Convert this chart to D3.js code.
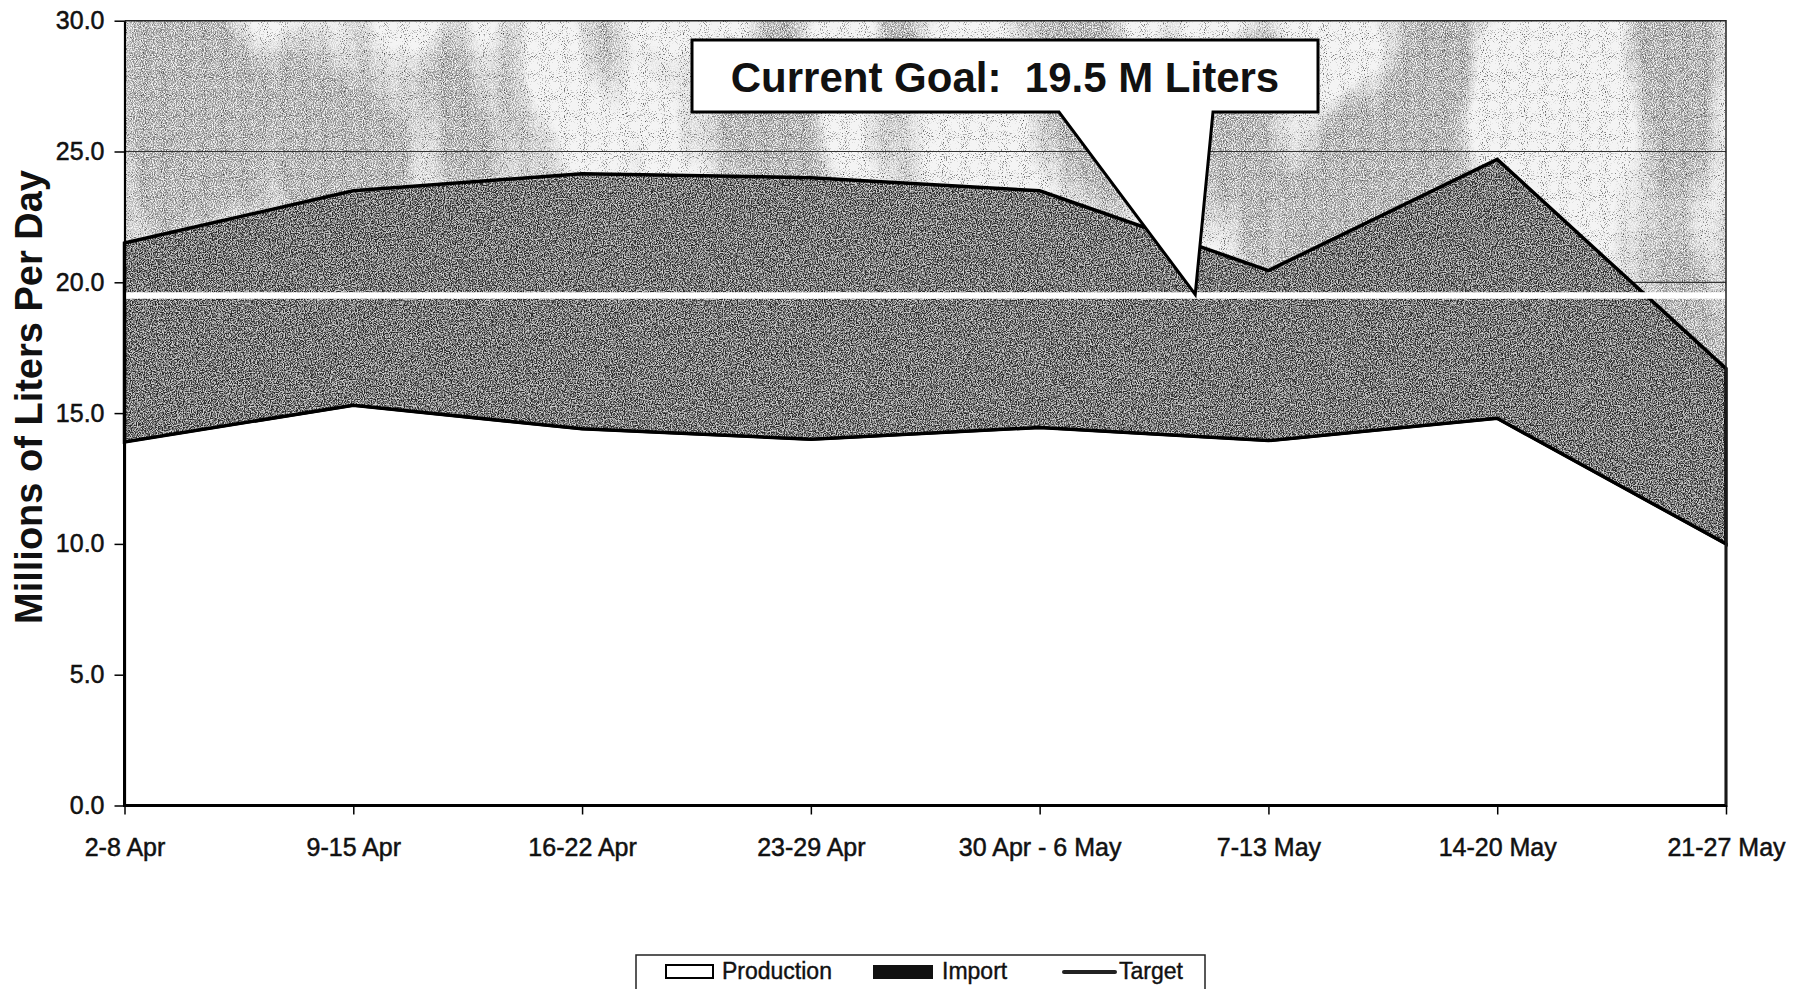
<!DOCTYPE html>
<html lang="en">

<head>
    <meta charset="UTF-8">
    <title>Millions of Liters Per Day</title>
    <script src="https://d3js.org/d3.v7.min.js"></script>
    <style>
        body,
        html {
            margin: 0px;
            background: #fff;
            font-family: 'Liberation Sans', Arial, sans-serif;
        }

        .tick text {
            font-family: 'Liberation Sans', Arial, sans-serif;
            font-size: 25px;
            fill: #111;
            stroke: #111;
            stroke-width: 0.5px;
        }

        .callout-text {
            white-space: pre;
        }
    </style>
</head>

<body>
    <div id="chart"></div>

    <script>
        // weekly values, millions of liters per day
        const weeks = ["2-8 Apr", "9-15 Apr", "16-22 Apr", "23-29 Apr", "30 Apr - 6 May", "7-13 May", "14-20 May", "21-27 May"]
        const production = [13.9, 15.3, 14.4, 14.0, 14.45, 13.95, 14.8, 10.0]
        const imports = [7.6, 8.2, 9.75, 10.0, 9.05, 6.5, 9.9, 6.7]
        const target = 19.5
        const yTicks = [0, 5, 10, 15, 20, 25, 30]
        const legendItems = ["Production", "Import", "Target"]
        const goalText = "Current Goal:  19.5 M Liters"

        const W = 1807, H = 989
        const margin = { top: 20.7, right: 81, bottom: 183.5, left: 124.5 }
        const width = W - margin.left - margin.right
        const height = H - margin.top - margin.bottom

        const svg = d3.select("#chart").append("svg")
            .attr("width", W)
            .attr("height", H)
            .style("display", "block")

        const defs = svg.append("defs")

        // light scanned background with grainy gray blotches
        const paper = defs.append("filter").attr("id", "paper")
            .attr("x", 0).attr("y", 0).attr("width", 1).attr("height", 1)
            .attr("color-interpolation-filters", "sRGB")
        paper.append("feTurbulence").attr("type", "fractalNoise")
            .attr("baseFrequency", "0.008 0.0035").attr("numOctaves", 3).attr("seed", 5).attr("result", "low")
        paper.append("feColorMatrix").attr("in", "low").attr("type", "matrix")
            .attr("values", "0 0 0 0 0.55  0 0 0 0 0.55  0 0 0 0 0.55  6 0 0 0 -2.9").attr("result", "blobs")
        paper.append("feTurbulence").attr("type", "fractalNoise")
            .attr("baseFrequency", "0.9").attr("numOctaves", 1).attr("seed", 13).attr("result", "mask0")
        paper.append("feColorMatrix").attr("in", "mask0").attr("type", "matrix")
            .attr("values", "0 0 0 0 0  0 0 0 0 0  0 0 0 0 0  4 0 0 0 -1.5").attr("result", "mask")
        paper.append("feComposite").attr("in", "blobs").attr("in2", "mask").attr("operator", "in").attr("result", "grainyBlobs")
        paper.append("feTurbulence").attr("type", "fractalNoise")
            .attr("baseFrequency", "0.95").attr("numOctaves", 1).attr("seed", 9).attr("result", "fine")
        paper.append("feColorMatrix").attr("in", "fine").attr("type", "matrix")
            .attr("values", "0 0 0 0 0.2  0 0 0 0 0.2  0 0 0 0 0.2  4 0 0 0 -2.3").attr("result", "specks")
        const pm = paper.append("feMerge")
        pm.append("feMergeNode").attr("in", "SourceGraphic")
        pm.append("feMergeNode").attr("in", "grainyBlobs")
        pm.append("feMergeNode").attr("in", "specks")

        // dark grainy fill for the import band
        const grain = defs.append("filter").attr("id", "grain")
            .attr("color-interpolation-filters", "sRGB")
        grain.append("feTurbulence").attr("type", "fractalNoise")
            .attr("baseFrequency", "0.85").attr("numOctaves", 2).attr("seed", 4).attr("result", "noise")
        grain.append("feColorMatrix").attr("in", "noise").attr("type", "matrix")
            .attr("values", "3.5 0 0 0 -1.25  3.5 0 0 0 -1.25  3.5 0 0 0 -1.25  0 0 0 0 1").attr("result", "gray")
        grain.append("feComposite").attr("in", "SourceGraphic").attr("in2", "gray")
            .attr("operator", "arithmetic").attr("k1", 0).attr("k2", 0.35).attr("k3", 0.65).attr("k4", 0)
            .attr("result", "mix")
        grain.append("feComposite").attr("in", "mix").attr("in2", "SourceAlpha").attr("operator", "in")

        const g = svg.append("g").attr("transform", `translate(${margin.left},${margin.top})`)

        const x = d3.scalePoint().domain(weeks).range([0, width])
        const y = d3.scaleLinear().domain([0, 30]).range([height, 0])

        const data = weeks.map((w, i) => ({ week: w, prod: production[i], imp: imports[i] }))

        g.append("rect")
            .attr("width", width)
            .attr("height", height)
            .attr("fill", "#f4f4f4")
            .attr("filter", "url(#paper)")

        // gridlines sit behind the areas
        g.append("g").selectAll("line")
            .data(yTicks.filter(d => d > 0 && d < 30))
            .enter().append("line")
            .attr("x1", 0).attr("x2", width)
            .attr("y1", d => y(d)).attr("y2", d => y(d))
            .attr("stroke", "#333").attr("stroke-width", 1.2)

        const prodArea = d3.area()
            .x(d => x(d.week))
            .y0(height)
            .y1(d => y(d.prod))

        const impArea = d3.area()
            .x(d => x(d.week))
            .y0(d => y(d.prod))
            .y1(d => y(d.prod + d.imp))

        g.append("path")
            .datum(data)
            .attr("d", prodArea)
            .attr("fill", "#fff")
            .attr("stroke", "#000")
            .attr("stroke-width", 3)

        g.append("path")
            .datum(data)
            .attr("d", impArea)
            .attr("fill", "#6e6e6e")
            .attr("filter", "url(#grain)")

        g.append("path")
            .datum(data)
            .attr("d", impArea)
            .attr("fill", "none")
            .attr("stroke", "#000")
            .attr("stroke-width", 3.5)

        // target line
        g.append("line")
            .attr("x1", 0).attr("x2", width + 2)
            .attr("y1", y(target)).attr("y2", y(target))
            .attr("stroke", "#fff")
            .attr("stroke-width", 6.5)

        // plot frame top / right
        g.append("path")
            .attr("d", `M0,0H${width}V${height}`)
            .attr("fill", "none")
            .attr("stroke", "#222")
            .attr("stroke-width", 1.5)

        const yAxis = g.append("g")
            .call(d3.axisLeft(y).tickValues(yTicks).tickFormat(d3.format(".1f")).tickSize(10).tickSizeOuter(0).tickPadding(10))
        yAxis.select(".domain").attr("stroke", "#000").attr("stroke-width", 2.2)
        yAxis.selectAll(".tick line").attr("stroke", "#000").attr("stroke-width", 1.5)

        const xAxis = g.append("g")
            .attr("transform", `translate(0,${height})`)
            .call(d3.axisBottom(x).tickSize(9).tickSizeOuter(0).tickPadding(23.5))
        xAxis.select(".domain").attr("stroke", "#000").attr("stroke-width", 2.2)
        xAxis.selectAll(".tick line").attr("stroke", "#000").attr("stroke-width", 1.5)

        svg.append("text")
            .attr("transform", "translate(42,397) rotate(-90)")
            .attr("text-anchor", "middle")
            .style("font-size", "38px")
            .style("font-weight", "bold")
            .attr("fill", "#111")
            .text("Millions of Liters Per Day")

        // callout pointing at the target line
        const tipX = margin.left + x(weeks[4]) + 0.68 * x.step()
        const tipY = margin.top + y(target) - 1
        const box = { x0: 692, x1: 1318, y0: 40, y1: 112 }
        const baseL = 1059, baseR = 1213
        svg.append("path")
            .attr("d", `M${box.x0},${box.y0}H${box.x1}V${box.y1}H${baseR}L${tipX},${tipY}L${baseL},${box.y1}H${box.x0}Z`)
            .attr("fill", "#fff")
            .attr("stroke", "#000")
            .attr("stroke-width", 3)
            .attr("stroke-linejoin", "miter")
        svg.append("text")
            .attr("class", "callout-text")
            .attr("x", (box.x0 + box.x1) / 2)
            .attr("y", 92)
            .attr("text-anchor", "middle")
            .style("font-size", "42px")
            .style("font-weight", "bold")
            .attr("fill", "#111")
            .text(goalText)

        // legend
        const legend = svg.append("g")
        legend.append("rect")
            .attr("x", 636).attr("y", 955)
            .attr("width", 569).attr("height", 60)
            .attr("fill", "#fff")
            .attr("stroke", "#222")
            .attr("stroke-width", 1.5)

        const legX = [666, 873, 1064]
        legend.append("rect")
            .attr("x", legX[0]).attr("y", 965).attr("width", 47).attr("height", 13)
            .attr("fill", "#fff").attr("stroke", "#000").attr("stroke-width", 2)
        legend.append("rect")
            .attr("x", legX[1]).attr("y", 965).attr("width", 60).attr("height", 14)
            .attr("fill", "#111")
        legend.append("line")
            .attr("x1", legX[2]).attr("x2", legX[2] + 51)
            .attr("y1", 972).attr("y2", 972)
            .attr("stroke", "#222").attr("stroke-width", 4).attr("stroke-linecap", "round")

        const textX = [722, 942, 1119]
        legend.selectAll("text.leg")
            .data(legendItems)
            .enter().append("text")
            .attr("class", "leg")
            .attr("x", (d, i) => textX[i])
            .attr("y", 979)
            .style("font-size", "23px")
            .attr("fill", "#111")
            .attr("stroke", "#111")
            .attr("stroke-width", 0.4)
            .text(d => d)
    </script>
</body>

</html>
